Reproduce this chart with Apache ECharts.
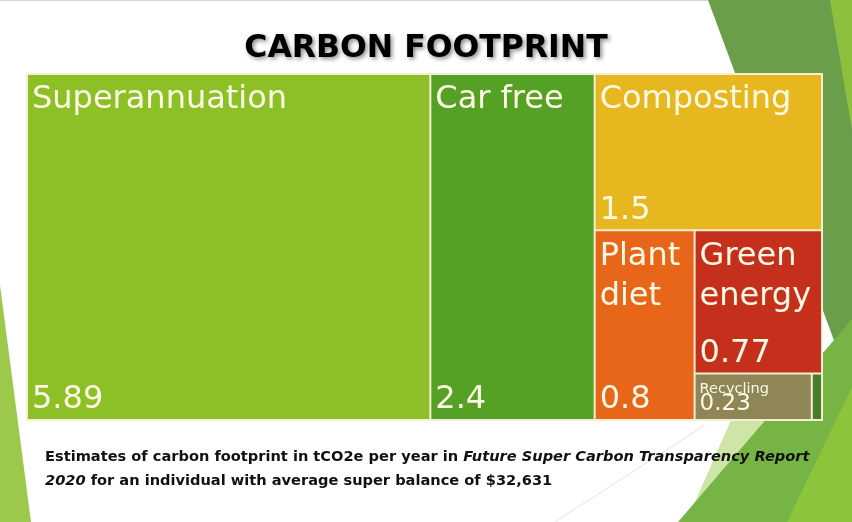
<!DOCTYPE html>
<html lang="en">
<head>
    <meta charset="UTF-8">
    <title>Carbon footprint</title>
    <style>
        html, body { margin: 0; padding: 0; background: #ffffff; }
        #main { width: 852px; height: 522px; }
    </style>
    <script src="https://cdn.jsdelivr.net/npm/echarts@6/dist/echarts.min.js"></script>
</head>
<body>
    <div id="main"></div>
    <script>
        // tCO2e per year
        var names = ['Superannuation', 'Car free', 'Composting', 'Plant diet', 'Green energy', 'Recycling', 'Other'];
        var values = [5.89, 2.4, 1.5, 0.8, 0.77, 0.23, 0.02];
        var colors = ['#8dbf27', '#55a126', '#e6b71e', '#e8661a', '#c4301b', '#8e8656', '#4a7d2a'];

        var titleText = 'CARBON FOOTPRINT';
        var noteLine1 = ['Estimates of carbon footprint in tCO2e per year in ', 'Future Super Carbon Transparency Report'];
        var noteLine2 = ['2020', ' for an individual with average super balance of $32,631'];

        var labelFont = 'DejaVu Sans';
        var textColor = '#fdf8e4';

        var chart = echarts.init(document.getElementById('main'));

        // two treemaps with the same data and layout: one carries the names (top), one the values (bottom)
        function buildData(kind) {
            var out = [];
            for (var i = 0; i < names.length; i++) {
                var small = values[i] < 0.5;
                var item = {
                    name: names[i],
                    value: values[i],
                    itemStyle: kind === 'name'
                        ? { color: colors[i] }
                        : { color: 'transparent', borderColor: 'transparent' }
                };
                if (small) {
                    item.label = {
                        fontSize: kind === 'name' ? 14.5 : 23,
                        lineHeight: kind === 'name' ? 16 : 20,
                        padding: kind === 'name' ? [7, 4] : [0, 4, 5, 4]
                    };
                }
                if (values[i] < 0.1) {
                    item.label = { show: false };
                }
                out.push(item);
            }
            return out;
        }

        // narrow boxes put each word of the name on its own line
        function nameLabel(p) {
            return p.value < 1 ? p.name.replace(' ', '\n') : p.name;
        }

        function treemapSeries(kind) {
            return {
                type: 'treemap',
                left: 26,
                top: 73,
                width: 797,
                height: 348,
                roam: false,
                nodeClick: false,
                squareRatio: 0.8,
                breadcrumb: { show: false },
                silent: kind !== 'name',
                itemStyle: {
                    borderColor: kind === 'name' ? '#f4efd2' : 'transparent',
                    borderWidth: 1,
                    gapWidth: 0
                },
                label: {
                    show: true,
                    position: kind === 'name' ? 'insideTopLeft' : 'insideBottomLeft',
                    formatter: kind === 'name' ? nameLabel : '{c}',
                    fontFamily: labelFont,
                    fontSize: 32,
                    lineHeight: kind === 'name' ? 40 : 38,
                    color: textColor,
                    overflow: 'break',
                    padding: kind === 'name' ? [5, 4] : [0, 4, 0, 4]
                },
                emphasis: { disabled: true },
                data: buildData(kind)
            };
        }

        var option = {
            animation: false,
            backgroundColor: '#ffffff',
            title: {
                text: titleText,
                left: 'center',
                top: 28,
                textStyle: {
                    fontFamily: 'DejaVu Sans',
                    fontWeight: 'bold',
                    fontSize: 31.5,
                    color: '#000000',
                    textShadowColor: 'rgba(0,0,0,0.45)',
                    textShadowBlur: 4,
                    textShadowOffsetX: 2,
                    textShadowOffsetY: 2
                }
            },
            graphic: [
                // slide decoration
                { type: 'line', shape: { x1: 0, y1: 0.5, x2: 852, y2: 0.5 }, style: { stroke: '#d4d4d4', lineWidth: 1 }, silent: true },
                { type: 'polygon', shape: { points: [[708, 0], [852, 0], [852, 389]] }, style: { fill: '#6b9e4a' }, silent: true },
                { type: 'polygon', shape: { points: [[830, 0], [852, 0], [852, 130]] }, style: { fill: '#8dc03c' }, silent: true },
                { type: 'polygon', shape: { points: [[686, 522], [740, 400], [781, 400]] }, style: { fill: '#cfe5a8' }, silent: true },
                { type: 'polygon', shape: { points: [[678, 522], [852, 319], [852, 522]] }, style: { fill: '#77b446' }, silent: true },
                { type: 'polygon', shape: { points: [[787, 522], [852, 387], [852, 522]] }, style: { fill: '#8cc43c' }, silent: true },
                { type: 'polygon', shape: { points: [[0, 285], [31, 522], [0, 522]] }, style: { fill: '#9cc84b' }, silent: true },
                { type: 'line', shape: { x1: 555, y1: 522, x2: 705, y2: 425 }, style: { stroke: '#e4e4e4', lineWidth: 1 }, silent: true },
                {
                    type: 'text',
                    left: 45,
                    top: 450,
                    silent: true,
                    style: {
                        text: '{r|' + noteLine1[0] + '}{i|' + noteLine1[1] + '}\n{i|' + noteLine2[0] + '}{r|' + noteLine2[1] + '}',
                        rich: {
                            r: { fontFamily: 'DejaVu Sans', fontSize: 14.6, fontWeight: 'bold', fill: '#111111', lineHeight: 24 },
                            i: { fontFamily: 'DejaVu Sans', fontSize: 14.6, fontWeight: 'bold', fontStyle: 'italic', fill: '#111111', lineHeight: 24 }
                        }
                    }
                }
            ],
            series: [treemapSeries('name'), treemapSeries('value')]
        };

        chart.setOption(option);
    </script>
</body>
</html>
